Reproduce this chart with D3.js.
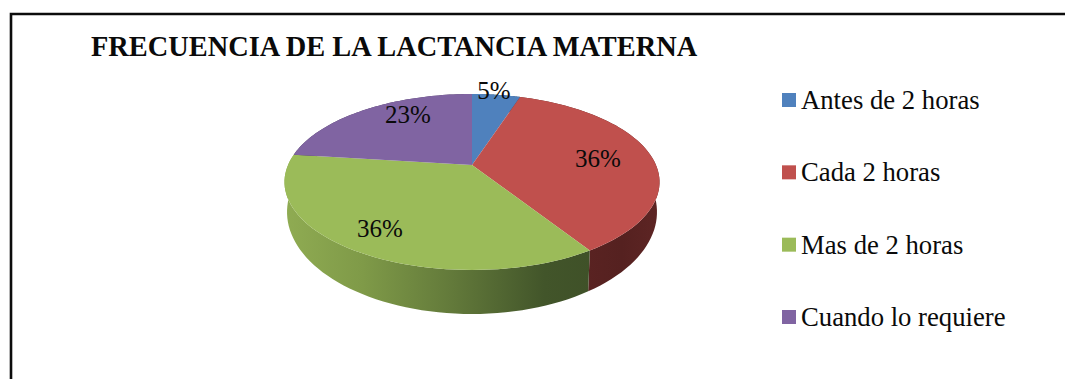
<!DOCTYPE html>
<html>
<head>
<meta charset="utf-8">
<script src="https://cdn.jsdelivr.net/npm/d3@7/dist/d3.min.js"></script>
<style>
  html, body { margin: 0; padding: 0; background: #fff; overflow: hidden; }
  text { font-family: "Liberation Serif", "Times New Roman", serif; fill: #0a0a0a; }
</style>
</head>
<body>
<svg id="chart" width="1065" height="379"></svg>
<script>
const titleText = "FRECUENCIA DE LA LACTANCIA MATERNA";
const categories = ["Antes de 2 horas", "Cada 2 horas", "Mas de 2 horas", "Cuando lo requiere"];
const percents = [5, 36, 36, 23];
const topColors = ["#4f81bd", "#c0504d", "#9bbb59", "#8064a2"];
const labelAnchors = [[494, 99], [598, 167], [380, 237], [408, 123]];

const svg = d3.select("#chart");

// Chart frame, running off the right and bottom of the page
svg.append("path")
  .attr("d", "M11,379V14H1065")
  .attr("fill", "none").attr("stroke", "#0c0c0c").attr("stroke-width", 2.6);

svg.append("text").attr("x", 91).attr("y", 56)
  .attr("font-size", 28.4).attr("font-weight", "bold").text(titleText);

// Tilted disc: the unit circle seen through a perspective projection.
// The same projection with other extents gives the lower rim of the wall.
const tilt = 0.193;
const upperRim = { x: 472, y: 165, bx: 184, by: 84.7 };
const lowerRim = { x: 472, y: 192.3, bx: 181.5, by: 98.2 };
function project(rim, theta) {
  const u = Math.sin(theta), v = Math.cos(theta), w = 1 + tilt * v;
  return [rim.x + rim.bx * u / w, rim.y - rim.by * v / w];
}
const rimPoints = (rim, a0, a1) =>
  d3.range(0, 61).map(i => project(rim, a0 + (a1 - a0) * i / 60));

const slices = d3.pie().sort(null).value(d => d)(percents);
const line = d3.line();

// Side wall shading
const defs = svg.append("defs");
function wallGradient(id, x1, x2, stops) {
  const g = defs.append("linearGradient").attr("id", id)
    .attr("gradientUnits", "userSpaceOnUse")
    .attr("x1", x1).attr("x2", x2).attr("y1", 0).attr("y2", 0);
  stops.forEach(([o, c]) => g.append("stop").attr("offset", o).attr("stop-color", c));
}
wallGradient("wall-green", 287, 590, [[0, "#8fab52"], [0.25, "#7f9a48"], [0.55, "#62793a"], [0.85, "#42552a"], [1, "#3f5128"]]);
wallGradient("wall-red", 584, 660, [[0, "#5a2322"], [0.5, "#552120"], [1, "#5e2524"]]);
const wallFill = ["#2e4a6e", "url(#wall-red)", "url(#wall-green)", "#4a3a60"];

// Walls back to front, then the top faces over them
svg.append("g").selectAll("path")
  .data([slices[0], slices[3], slices[1], slices[2]])
  .join("path")
  .attr("fill", d => wallFill[d.index])
  .attr("d", d => line(rimPoints(upperRim, d.startAngle, d.endAngle)
    .concat(rimPoints(lowerRim, d.endAngle, d.startAngle))) + "Z");

svg.append("g").selectAll("path")
  .data(slices)
  .join("path")
  .attr("fill", d => topColors[d.index])
  .attr("d", d => line([[upperRim.x, upperRim.y], ...rimPoints(upperRim, d.startAngle, d.endAngle)]) + "Z");

svg.append("g").selectAll("text")
  .data(slices)
  .join("text")
  .attr("x", d => labelAnchors[d.index][0])
  .attr("y", d => labelAnchors[d.index][1])
  .attr("text-anchor", "middle")
  .attr("font-size", 25)
  .text(d => d.data + "%");

// Legend
const legendY = d3.scalePoint().domain(categories).range([100, 317]);
const legend = svg.append("g").selectAll("g").data(categories).join("g")
  .attr("transform", d => `translate(782,${legendY(d)})`);
legend.append("rect").attr("x", 0).attr("y", -7).attr("width", 14).attr("height", 14)
  .attr("fill", (d, i) => topColors[i]);
legend.append("text").attr("x", 19).attr("y", 9).attr("font-size", 26.7).text(d => d);
</script>
</body>
</html>
